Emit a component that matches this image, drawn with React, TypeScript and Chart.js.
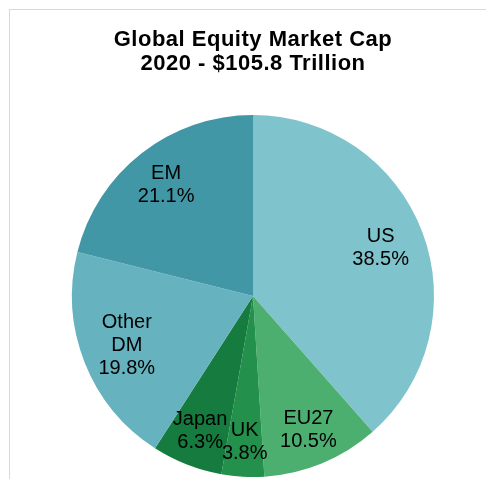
import React, { useEffect, useRef } from "react";
import { Chart, registerables } from "chart.js";

Chart.register(...registerables);

const categories = ["US", "EU27", "UK", "Japan", "Other DM", "EM"];
const labelLines = [["US"], ["EU27"], ["UK"], ["Japan"], ["Other", "DM"], ["EM"]];
const shares = [38.5, 10.5, 3.8, 6.3, 19.8, 21.1];
const colors = ["#7fc3cc", "#4caf70", "#23904c", "#157b3e", "#66b3bf", "#4297a6"];
const labelRadius = [0.754, 0.8, 0.81, 0.8, 0.75, 0.78];
const titleLines = ["Global Equity Market Cap", "2020 - $105.8 Trillion"];

const FONT = "'Liberation Sans', Arial, sans-serif";

const labelPlugin = {
  id: "sliceLabels",
  beforeDraw(chart: any) {
    chart.ctx.letterSpacing = "0.5px";
  },
  afterDatasetsDraw(chart: any) {
    const ctx = chart.ctx;
    const meta = chart.getDatasetMeta(0);
    ctx.save();
    ctx.letterSpacing = "0px";
    ctx.font = `20px ${FONT}`;
    ctx.fillStyle = "#000";
    ctx.textAlign = "center";
    ctx.textBaseline = "middle";
    meta.data.forEach((arc: any, i: number) => {
      const p = arc.getProps(["x", "y", "startAngle", "endAngle", "outerRadius"], true);
      const mid = (p.startAngle + p.endAngle) / 2;
      const r = p.outerRadius * labelRadius[i];
      const cx = p.x + Math.cos(mid) * r;
      const cy = p.y + Math.sin(mid) * r;
      const lines = [...labelLines[i], shares[i].toFixed(1) + "%"];
      const lh = 23;
      const start = cy - ((lines.length - 1) * lh) / 2;
      lines.forEach((t, k) => ctx.fillText(t, cx, start + k * lh));
    });
    ctx.restore();
  },
};

export default function App() {
  const ref = useRef<HTMLCanvasElement>(null);
  useEffect(() => {
    if (!ref.current) return;
    const chart = new Chart(ref.current, {
      type: "pie",
      data: {
        labels: categories,
        datasets: [
          {
            data: shares,
            backgroundColor: colors,
            borderWidth: 0,
          },
        ],
      },
      options: {
        responsive: false,
        animation: false,
        layout: { padding: { top: 0, left: 0, right: 0, bottom: 2 } },
        plugins: {
          legend: { display: false },
          tooltip: { enabled: false },
          title: {
            display: true,
            text: titleLines,
            color: "#000",
            font: { family: FONT, size: 22, weight: "bold", lineHeight: 24 / 22 },
            padding: { top: 18, bottom: 39 },
          },
        },
      },
      plugins: [labelPlugin],
    });
    return () => chart.destroy();
  }, []);
  return (
    <div
      style={{
        position: "absolute",
        left: 0,
        top: 0,
        width: 486,
        height: 479,
        overflow: "hidden",
        background: "#fff",
      }}
    >
      <div
        style={{
          position: "absolute",
          left: 9,
          top: 9,
          width: 486,
          height: 490,
          border: "1px solid #d9d9d9",
        }}
      >
        <canvas ref={ref} width={486} height={469} style={{ display: "block" }} />
      </div>
    </div>
  );
}
